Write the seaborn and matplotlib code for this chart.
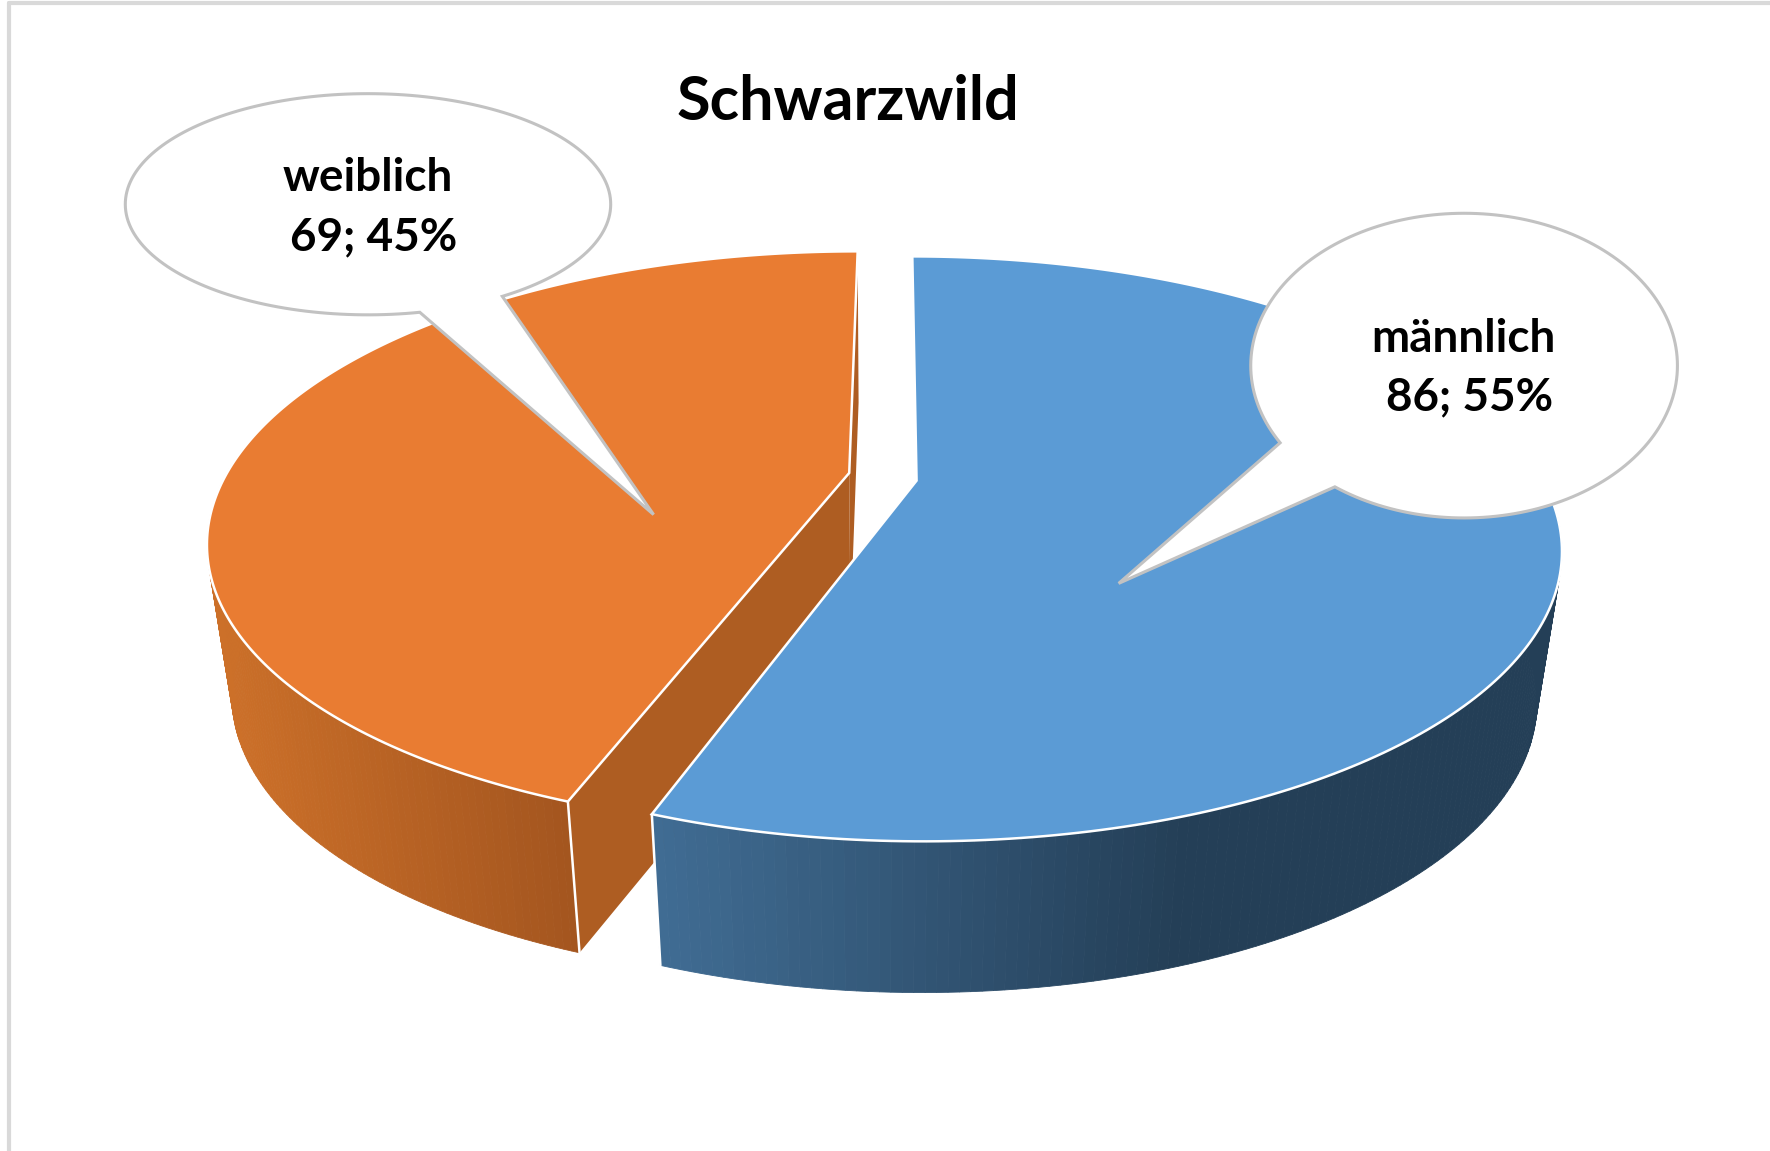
# Schwarzwild pie, drawn as perspective 3D pie with callouts
import numpy as np
import seaborn as sns
import matplotlib
matplotlib.use("Agg")
import matplotlib.pyplot as plt
from matplotlib.patches import Polygon

categories = ["männlich", "weiblich"]
counts = [86, 69]
percents = [55, 45]
title = "Schwarzwild"

top_colors = ["#5b9bd5", "#e97c32"]
wall_colors = [["#406c93", "#243f57"], ["#cc7029", "#a3551f"]]
cut_color = "#ae5d22"
explode = [(0.036, -0.014), (-0.072, 0.014)]

sns.set_theme(style="white")
plt.rcParams["font.family"] = ["Lato", "DejaVu Sans"]

# projection of the pie plane to picture coordinates
CX, CY = 792, 422.5
A, B, K = 553, 145.2, 0.2326
DEPTH, SHRINK = 134, 0.963


def project(X, Y):
    w = 1 + K * Y
    return CX + A * X / w, (CY - B * Y) / w


def lower(u, v):
    return CX - 10 + SHRINK * (u - CX + 10), v + DEPTH


def rim(theta, off):
    return project(np.sin(theta) + off[0], np.cos(theta) + off[1])


fig, ax = plt.subplots(figsize=(17.7, 11.51), dpi=100)
fig.subplots_adjust(0, 0, 1, 1)
ax.set_xlim(0, 1568)
ax.set_ylim(1020, 0)
ax.axis("off")

# frame of the screenshot
ax.plot([8, 8], [1020, 3], color="#d9d9d9", lw=3)
ax.plot([8, 1568], [3, 3], color="#d9d9d9", lw=3)

edges = np.radians(np.cumsum([0] + counts) / sum(counts) * 360)

for i in [1, 0]:
    start, end = edges[i], edges[i + 1]
    off = explode[i]
    theta = np.linspace(start, end, 241)
    u, v = rim(theta, off)
    cu, cv = project(*off)

    if i == 1:
        # inner cut faces seen through the gap
        for t in [start, end]:
            eu, ev = rim(t, off)
            pts = [(cu, cv), (eu, ev), lower(eu, ev), lower(cu, cv)]
            ax.add_patch(Polygon(pts, fc=cut_color, ec="none", zorder=2))

    # outer wall, one strip per step with colour taken from x position
    # only the part turned to the viewer
    pal = sns.blend_palette(wall_colors[i], 101)
    lo, hi = (585, 1050) if i == 0 else (190, 510)
    for j in range(len(theta) - 1):
        if np.cos(theta[j]) > 0.1:
            continue
        frac = np.clip((u[j] - lo) / (hi - lo), 0, 1)
        col = pal[int(frac * 100)]
        ub0, vb0 = lower(u[j], v[j])
        ub1, vb1 = lower(u[j + 1], v[j + 1])
        ax.add_patch(Polygon([(u[j], v[j]), (u[j + 1], v[j + 1]), (ub1, vb1), (ub0, vb0)],
                             fc=col, ec=col, lw=0.6, zorder=3 + 3 * (1 - i)))

    # white line at the slice end
    eu, ev = rim(edges[1], off)
    ax.plot([eu, lower(eu, ev)[0]], [ev, lower(eu, ev)[1]], color="white", lw=1.8, zorder=4 + 3 * (1 - i))

    top = np.column_stack([np.r_[cu, u], np.r_[cv, v]])
    ax.add_patch(Polygon(top, fc=top_colors[i], ec="white", lw=1.8, zorder=5 + 3 * (1 - i)))


def callout(cx, cy, rx, ry, a0, a1, tip):
    # a0 to a1 is the arc that is kept, tail closes it at tip
    t = np.radians(np.linspace(a0, a1, 200))
    pts = np.column_stack([cx + rx * np.cos(t), cy + ry * np.sin(t)])
    pts = np.vstack([pts, tip])
    ax.add_patch(Polygon(pts, fc="white", ec="#c2c2c2", lw=2.2, joinstyle="miter", zorder=10))


def base_angle(cx, cy, rx, ry, x, y):
    return np.degrees(np.arctan2((y - cy) / ry, (x - cx) / rx))


# weiblich callout
a0 = base_angle(326, 181, 215, 98, 447, 264)
a1 = base_angle(326, 181, 215, 98, 372, 277)
callout(326, 181, 215, 98, a1, a0 + 360, (579, 456))

# männlich callout
a0 = base_angle(1297, 324, 189, 135, 1183, 431)
a1 = base_angle(1297, 324, 189, 135, 1135, 392)
callout(1297, 324, 189, 135, a1, a0 + 360, (991, 517))

label_font = dict(fontsize=33, fontweight="bold", color="black", ha="center", va="center", zorder=12)
ax.text(1296, 300, categories[0], **label_font)
ax.text(1302, 352, f"{counts[0]}; {percents[0]}%", **label_font)
ax.text(326, 158, categories[1], **label_font)
ax.text(331, 210, f"{counts[1]}; {percents[1]}%", **label_font)
ax.text(751, 90, title, fontsize=44, fontweight="bold", color="black", ha="center", va="center", zorder=12)

fig.savefig("out.png", dpi=100)
